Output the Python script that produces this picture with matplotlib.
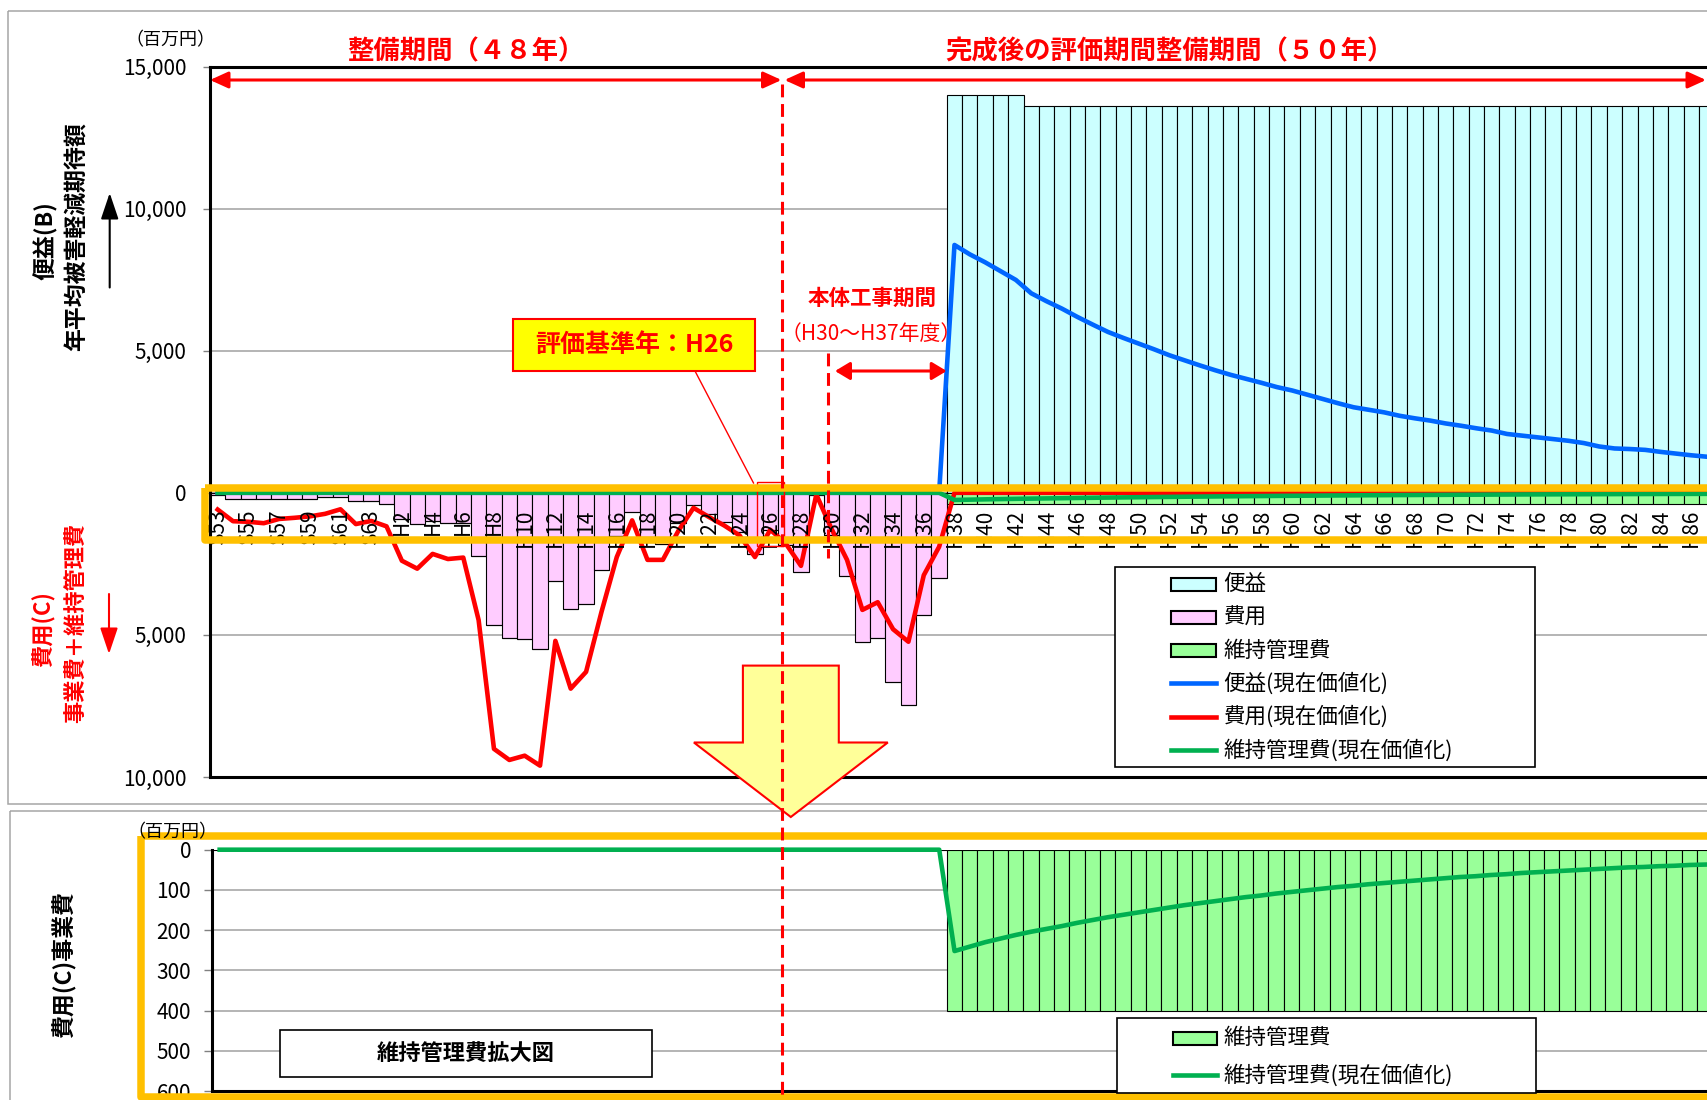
import numpy as np
import matplotlib
matplotlib.use("Agg")
import matplotlib.pyplot as plt
from matplotlib.patches import Rectangle, Polygon, FancyArrowPatch

plt.rcParams['font.family'] = ['Noto Sans CJK JP', 'DejaVu Sans']

# 年度（昭和53年度～平成87年度）
years = [f"S{y}" for y in range(53, 64)] + [f"H{y}" for y in range(1, 88)]

# 便益（年平均被害軽減期待額）[百万円]
benefit = [0] * 48 + [14000] * 5 + [13600] * 45

# 費用（事業費）[百万円]
cost = [60, 210, 220, 220, 220, 220, 210, 140, 140, 300, 300, 410,
        920, 1090, 1000, 1060, 1060, 2240, 4650, 5100, 5160, 5480, 3100, 4100,
        3920, 2710, 1530, 680, 1720, 1790, 1060, 430, 730, 1030, 1390, 2170,
        1300, 1850, 2800, 70, 1500, 2920, 5240, 5100, 6650, 7480, 4300, 3000] + [0] * 50

# 維持管理費 [百万円]
maint = [0] * 48 + [400] * 50

# 便益（現在価値化）
benefit_pv = [0] * 48 + [
    8720, 8390, 8110, 7800, 7490, 7020, 6740, 6480, 6190, 5920,
    5660, 5450, 5250, 5050, 4840, 4660, 4480, 4310, 4150, 4010,
    3870, 3720, 3600, 3450, 3300, 3150, 3010, 2920, 2830, 2710,
    2620, 2540, 2440, 2360, 2270, 2190, 2070, 2010, 1950, 1890,
    1830, 1750, 1630, 1560, 1540, 1510, 1440, 1380, 1320, 1270]

# 費用（現在価値化）
cost_pv = [590, 1000, 1020, 1070, 920, 880, 830, 740, 580, 1100, 990, 1180,
           2390, 2670, 2150, 2330, 2280, 4480, 9010, 9400, 9250, 9600, 5210, 6890,
           6300, 4200, 2260, 970, 2360, 2360, 1350, 530, 850, 1150, 1500, 2260,
           1300, 1780, 2570, 60, 1280, 2360, 4120, 3850, 4800, 5240, 2900, 1900] + [0] * 50

# 維持管理費（現在価値化）
maint_pv = [0] * 48 + [
    252, 241, 230, 221, 212, 204, 197, 190, 182, 175,
    168, 162, 156, 150, 144, 138, 133, 128, 123, 118,
    114, 109, 105, 101, 97, 93, 90, 86, 83, 80,
    77, 74, 71, 68, 66, 63, 61, 58, 56, 54,
    52, 50, 48, 46, 44, 43, 41, 40, 38, 37]

C_BEN, C_COST, C_MAINT = '#CCFFFF', '#FFCCFF', '#99FF99'
L_BEN, L_COST, L_MAINT = '#0066FF', '#FF0000', '#00B050'
ORANGE = '#FFC000'
GRID = '#A0A0A0'

W, H = 1708, 1100
fig = plt.figure(figsize=(W / 100, H / 100), dpi=100)


def frac(left, top, right, bottom):
    return [left / W, 1 - bottom / H, (right - left) / W, (bottom - top) / H]


n = len(years)
x = np.arange(n)
neg_cost = -np.array(cost, dtype=float)

# ---------------- 上段：便益・費用 ----------------
ax = fig.add_axes(frac(210, 66.5, 210 + 15.35 * n, 777))
ax.set_xlim(-0.5, n - 0.5)
ax.set_ylim(-10000, 15000)
ax.set_yticks([15000, 10000, 5000, 0, -5000, -10000])
ax.set_yticklabels(['15,000', '10,000', '5,000', '0', '5,000', '10,000'], fontsize=15)
ax.tick_params(axis='y', length=5, width=1, color='#808080', pad=12)
ax.set_xticks([])
ax.grid(axis='y', color=GRID, lw=1.1)
ax.set_axisbelow(True)
for s in ('left', 'top', 'bottom'):
    ax.spines[s].set_linewidth(2.2)
    ax.spines[s].set_color('black')
ax.spines['right'].set_visible(False)

ax.bar(x, benefit, width=1.0, color=C_BEN, edgecolor='black', linewidth=0.8, zorder=2)
ax.bar(x, neg_cost, width=1.0, color=C_COST, edgecolor='black', linewidth=0.8, zorder=2)
ax.bar(x, -np.array(maint), bottom=neg_cost, width=1.0, color=C_MAINT,
       edgecolor='black', linewidth=0.8, zorder=2)

ax.plot(x, benefit_pv, color=L_BEN, lw=3.3, zorder=3)
ax.plot(x, -np.array(cost_pv), color=L_COST, lw=3.3, zorder=3)
ax.plot(x, -np.array(maint_pv), color=L_MAINT, lw=3.3, zorder=3)

for i in range(0, n, 2):
    ax.text(i, -545, years[i], rotation=90, ha='center', va='top',
            fontsize=15, zorder=4)

# ---------------- 下段：維持管理費拡大図 ----------------
ax2 = fig.add_axes(frac(212, 849.7, 212 + 15.31 * n, 1091))
ax2.set_xlim(-0.5, n - 0.5)
ax2.set_ylim(600, 0)
ax2.set_yticks(range(0, 601, 100))
ax2.set_yticklabels([str(v) for v in range(0, 601, 100)], fontsize=15)
ax2.tick_params(axis='y', length=6, width=1, color='#808080', pad=9)
ax2.set_xticks([])
ax2.grid(axis='y', color=GRID, lw=1.1)
ax2.set_axisbelow(True)
for s in ('left', 'bottom'):
    ax2.spines[s].set_linewidth(2.2)
    ax2.spines[s].set_color('black')
for s in ('top', 'right'):
    ax2.spines[s].set_visible(False)
ax2.bar(x, maint, width=1.0, color=C_MAINT, edgecolor='black', linewidth=0.8, zorder=2)
ax2.plot(x, maint_pv, color=L_MAINT, lw=3.3, zorder=3, clip_on=False)

# ---------------- 注記レイヤー（ピクセル座標） ----------------
ov = fig.add_axes([0, 0, 1, 1], zorder=10)
ov.set_xlim(0, W)
ov.set_ylim(H, 0)
ov.axis('off')

# パネル枠
ov.add_patch(Rectangle((8.5, 10.7), 1720, 792.8, fill=False, ec='#A6A6A6', lw=1.1))
ov.add_patch(Rectangle((10, 810.7), 1720, 400, fill=False, ec='#A6A6A6', lw=1.1))

# 単位
ov.text(170, 40.5, '（百万円）', fontsize=13, ha='center', va='center')
ov.text(172, 832, '（百万円）', fontsize=13, ha='center', va='center')

# 軸タイトル
ov.text(45.5, 241, '便益(B)', rotation=90, fontsize=16.5, fontweight='bold',
        ha='center', va='center')
ov.text(77, 237, '年平均被害軽減期待額', rotation=90, fontsize=16.5, fontweight='bold',
        ha='center', va='center')
ov.add_patch(FancyArrowPatch((109.7, 287.5), (109.7, 193), arrowstyle='-|>,head_length=0.8,head_width=0.27',
                             mutation_scale=20, color='black', lw=1.5, shrinkA=0, shrinkB=0))
ov.text(43.5, 629, '費用(C)', rotation=90, fontsize=16, fontweight='bold', color='red',
        ha='center', va='center')
ov.text(76, 623, '事業費＋維持管理費', rotation=90, fontsize=16, fontweight='bold', color='red',
        ha='center', va='center')
ov.add_patch(FancyArrowPatch((109, 594), (109, 654), arrowstyle='-|>,head_length=0.8,head_width=0.27',
                             mutation_scale=20, color='red', lw=1.5, shrinkA=0, shrinkB=0))
ov.text(64.5, 965, '費用(C)事業費', rotation=90, fontsize=16.5, fontweight='bold',
        ha='center', va='center')

# 期間表示
ov.text(466, 52, '整備期間（４８年）', color='red', fontsize=19, fontweight='bold',
        ha='center', va='center')
ov.text(1170, 52, '完成後の評価期間整備期間（５０年）', color='red', fontsize=19,
        fontweight='bold', ha='center', va='center')
for x0, x1 in ((210, 781.5), (784.5, 1706)):
    ov.add_patch(FancyArrowPatch((x0, 80), (x1, 80),
                                 arrowstyle='<|-|>,head_length=0.55,head_width=0.25',
                                 mutation_scale=20, color='red', lw=2.2,
                                 shrinkA=0, shrinkB=0))

# 基準年・工事期間の破線
ov.plot([781.7, 781.7], [84, 1100], color='red', lw=2.2, ls=(0, (4.2, 2.2)))
ov.plot([827.7, 827.7], [353, 558], color='red', lw=2.2, ls=(0, (4.2, 2.2)))

ov.text(872, 298, '本体工事期間', color='red', fontsize=15.5, fontweight='bold',
        ha='center', va='center')
ov.text(871, 334, '（H30～H37年度）', color='red', fontsize=15,
        ha='center', va='center')
ov.add_patch(FancyArrowPatch((835, 371), (946.7, 371),
                             arrowstyle='<|-|>,head_length=0.45,head_width=0.27',
                             mutation_scale=20, color='red', lw=2.2, shrinkA=0, shrinkB=0))

# 評価基準年の吹き出し
ov.plot([695, 753.5], [371, 483], color='red', lw=1)
ov.add_patch(Rectangle((756.7, 481.5), 27.3, 64, fill=False, ec='red', lw=1))
ov.add_patch(Rectangle((513.3, 319), 241.7, 52, fc='#FFFF00', ec='red', lw=1.5))
ov.text(634, 345.5, '評価基準年：H26', color='red', fontsize=18, fontweight='bold',
        ha='center', va='center')

# 拡大図への矢印
ov.add_patch(Polygon([(742.9, 665.6), (838.8, 665.6), (838.8, 742.5), (887.8, 742.5),
                      (790.8, 817), (693.9, 742.5), (742.9, 742.5)],
                     closed=True, fc='#FFFF99', ec='red', lw=1.5))

# 強調枠
ov.add_patch(Rectangle((205, 488), 1600, 52, fill=False, ec=ORANGE, lw=5.4, joinstyle='round'))
ov.add_patch(Rectangle((141.3, 835.5), 1700, 261, fill=False, ec=ORANGE, lw=5.4, joinstyle='round'))

# 凡例（上段）
ov.add_patch(Rectangle((1115.5, 567), 420, 199.5, fc='white', ec='black', lw=1.2))
legend_rows = [('patch', C_BEN, '便益'), ('patch', C_COST, '費用'),
               ('patch', C_MAINT, '維持管理費'), ('line', L_BEN, '便益(現在価値化)'),
               ('line', L_COST, '費用(現在価値化)'), ('line', L_MAINT, '維持管理費(現在価値化)')]
row_y = [584, 617.3, 650.7, 683.3, 716.7, 750]
for (kind, col, lab), yc in zip(legend_rows, row_y):
    if kind == 'patch':
        ov.add_patch(Rectangle((1171.5, yc - 6.5), 45, 13, fc=col, ec='black', lw=1.5))
    else:
        ov.plot([1171.5, 1216.5], [yc, yc], color=col, lw=3.3)
    ov.text(1223.5, yc, lab, fontsize=15.5, ha='left', va='center')

# 凡例（下段）
ov.add_patch(Rectangle((1117, 1018.3), 418.6, 75, fc='white', ec='black', lw=1.2))
ov.add_patch(Rectangle((1172.8, 1031.8), 44, 13, fc=C_MAINT, ec='black', lw=1.5))
ov.text(1223.7, 1038.3, '維持管理費', fontsize=15.5, ha='left', va='center')
ov.plot([1172.8, 1216.8], [1075, 1075], color=L_MAINT, lw=3.3)
ov.text(1223.7, 1075, '維持管理費(現在価値化)', fontsize=15.5, ha='left', va='center')

# 拡大図ラベル
ov.add_patch(Rectangle((279.8, 1030), 371.9, 46.7, fc='white', ec='black', lw=1.2))
ov.text(465.7, 1053.3, '維持管理費拡大図', fontsize=16, fontweight='bold',
        ha='center', va='center')

fig.savefig('out.png', dpi=100)
